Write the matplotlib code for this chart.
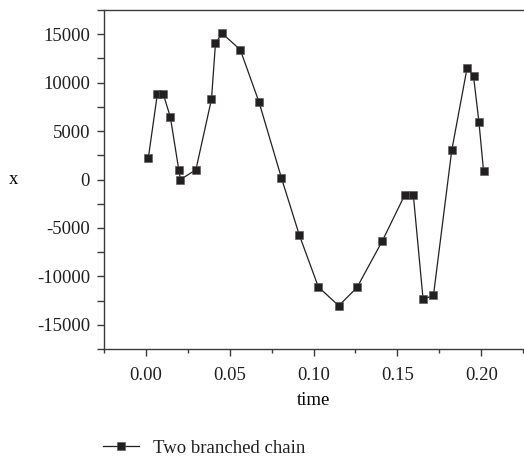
import matplotlib

matplotlib.use("Agg")
import matplotlib.pyplot as plt
from matplotlib.ticker import MultipleLocator

# values
time = [0.0014, 0.0068, 0.0104, 0.0146, 0.0196, 0.0206, 0.0298, 0.0391, 0.0415,
        0.0455, 0.0563, 0.0675, 0.0808, 0.0914, 0.1028, 0.1150, 0.1259, 0.1411,
        0.1543, 0.1595, 0.1653, 0.1715, 0.1824, 0.1916, 0.1954, 0.1986, 0.2014]
x_vals = [2170, 8800, 8800, 6420, 1000, 0, 1000, 8280, 14080,
          15080, 13390, 7970, 180, -5690, -11080, -13040, -11150, -6310,
          -1620, -1620, -12350, -11970, 3000, 11560, 10660, 5970, 830]
series_label = "Two branched chain"

INK = "#231f20"
SPINE = "#3a3a3a"

plt.rcParams.update({
    "font.family": ["Liberation Serif", "DejaVu Serif"],
    "font.size": 13.5,
    "text.color": INK,
})

fig = plt.figure(figsize=(5.24, 4.59), dpi=100)
ax = fig.add_axes([104 / 524, 1 - 349 / 459, 1 - 104 / 524, 339 / 459])

line, = ax.plot(time, x_vals, color=INK, lw=0.9, marker="s", ms=6.2,
                mfc=INK, mec="#555555", mew=0.4)

ax.set_xlim(-0.025, 0.2255)
ax.set_ylim(-17500, 17500)
ax.xaxis.set_major_locator(MultipleLocator(0.05))
ax.xaxis.set_minor_locator(MultipleLocator(0.025))
ax.yaxis.set_major_locator(MultipleLocator(5000))
ax.yaxis.set_minor_locator(MultipleLocator(2500))
ax.xaxis.set_major_formatter(plt.FuncFormatter(lambda v, _: f"{v:.2f}"))
ax.yaxis.set_major_formatter(plt.FuncFormatter(lambda v, _: f"{v:.0f}"))

ax.spines["right"].set_visible(False)
for side in ("top", "left", "bottom"):
    ax.spines[side].set_color(SPINE)
    ax.spines[side].set_linewidth(1.0)
ax.tick_params(which="both", direction="out", colors=SPINE, labelcolor=INK, width=1.0)
ax.tick_params(axis="x", which="major", length=5, pad=8)
ax.tick_params(axis="x", which="minor", length=3)
ax.tick_params(axis="y", which="both", length=5, pad=5)

ax.set_xlabel("time", labelpad=6)
ax.set_ylabel("x", rotation=0, labelpad=0, va="center")
ax.yaxis.set_label_coords(-0.215, 0.5)

leg = fig.legend([line], [series_label], loc="lower left",
                 bbox_to_anchor=(103 / 524, 2 / 459), frameon=False,
                 handlelength=1.9, handletextpad=0.75, borderpad=0,
                 borderaxespad=0)
leg.legend_handles[0].set_markersize(5.5)

fig.savefig("out.png", dpi=100)
